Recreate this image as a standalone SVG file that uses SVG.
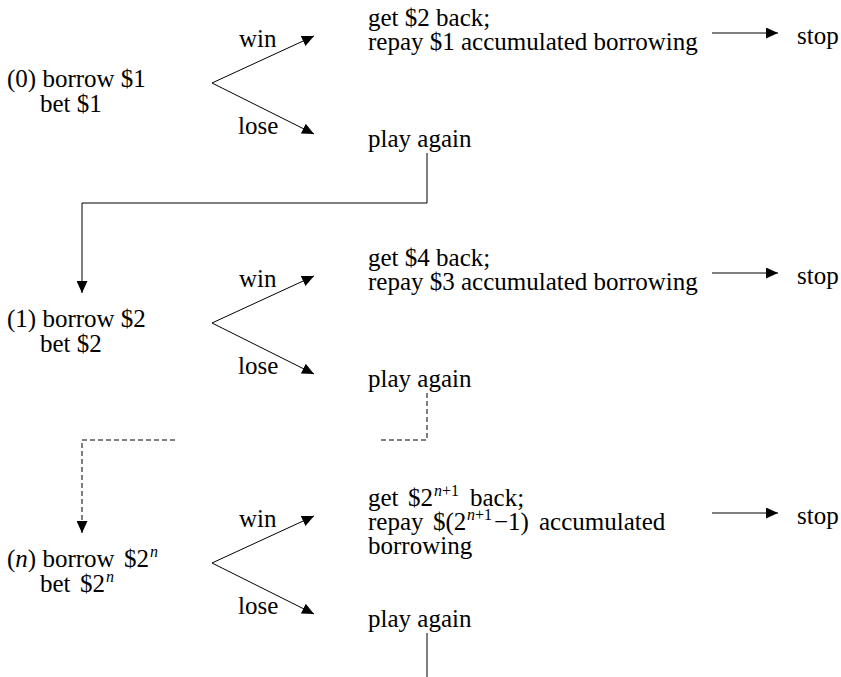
<svg xmlns="http://www.w3.org/2000/svg" width="841" height="677" viewBox="0 0 841 677">
<style>
text{font-family:"Liberation Serif","Times New Roman",serif;font-size:25px;fill:#000}
.sup{font-size:16px}
.i{font-style:italic}
.ln{stroke:#000;stroke-width:1;fill:none}
.ds{stroke-dasharray:5,3}
</style>
<defs>
<marker id="ah" markerUnits="userSpaceOnUse" markerWidth="13" markerHeight="11" refX="12" refY="5.5" orient="auto">
<path d="M0,0 L12,5.5 L0,11 z" fill="#000"/>
</marker>
</defs>
<rect width="841" height="677" fill="#fff"/>
<g id="connectors">
<line class="ln" x1="212" y1="83" x2="314" y2="36" marker-end="url(#ah)"/>
<line class="ln" x1="212" y1="83" x2="314" y2="134" marker-end="url(#ah)"/>
<line class="ln" x1="712" y1="33" x2="778" y2="33" marker-end="url(#ah)"/>
<polyline class="ln" points="427,153 427,203 82,203 82,293" marker-end="url(#ah)"/>
<line class="ln" x1="212" y1="323" x2="314" y2="276" marker-end="url(#ah)"/>
<line class="ln" x1="212" y1="323" x2="314" y2="374" marker-end="url(#ah)"/>
<line class="ln" x1="712" y1="273" x2="778" y2="273" marker-end="url(#ah)"/>
<polyline class="ln ds" points="427,393 427,440 378,440"/>
<polyline class="ln ds" points="175,440 82,440 82,533" marker-end="url(#ah)"/>
<line class="ln" x1="212" y1="563" x2="314" y2="516" marker-end="url(#ah)"/>
<line class="ln" x1="212" y1="563" x2="314" y2="614" marker-end="url(#ah)"/>
<line class="ln" x1="712" y1="513" x2="778" y2="513" marker-end="url(#ah)"/>
<line class="ln" x1="427" y1="633" x2="427" y2="677"/>
</g>
<g id="node0">
<text x="7" y="87">(0) borrow $1</text>
<text x="40" y="112">bet $1</text>
</g>
<g id="win0"><text x="239" y="47">win</text></g>
<g id="lose0"><text x="238" y="134">lose</text></g>
<g id="win0-result">
<text x="368" y="26">get $2 back;</text>
<text x="368" y="50">repay $1 accumulated borrowing</text>
</g>
<g id="stop0"><text x="797" y="44">stop</text></g>
<g id="again0"><text x="368" y="147">play again</text></g>

<g id="node1">
<text x="7" y="327">(1) borrow $2</text>
<text x="40" y="352">bet $2</text>
</g>
<g id="win1"><text x="239" y="287">win</text></g>
<g id="lose1"><text x="238" y="374">lose</text></g>
<g id="win1-result">
<text x="368" y="266">get $4 back;</text>
<text x="368" y="290">repay $3 accumulated borrowing</text>
</g>
<g id="stop1"><text x="797" y="284">stop</text></g>
<g id="again1"><text x="368" y="387">play again</text></g>

<g id="noden">
<text x="7" y="567">(<tspan class="i">n</tspan>) borrow</text>
<text x="124" y="567">$2</text>
<text class="sup i" x="150" y="557">n</text>
<text x="40" y="592">bet</text>
<text x="80" y="592">$2</text>
<text class="sup i" x="106" y="582">n</text>
</g>
<g id="winn"><text x="239" y="527">win</text></g>
<g id="losen"><text x="238" y="614">lose</text></g>
<g id="winn-result">
<text x="368" y="506">get</text>
<text x="408" y="506">$2</text>
<text class="sup" x="434" y="496"><tspan class="i">n</tspan>+1</text>
<text x="470" y="506">back;</text>
<text x="368" y="530">repay</text>
<text x="433" y="530">$(2</text>
<text class="sup" x="467" y="520"><tspan class="i">n</tspan>+1</text>
<text x="494" y="530">−1)</text>
<text x="539" y="530">accumulated</text>
<text x="368" y="554">borrowing</text>
</g>
<g id="stopn"><text x="797" y="524">stop</text></g>
<g id="againn"><text x="368" y="627">play again</text></g>
</svg>
